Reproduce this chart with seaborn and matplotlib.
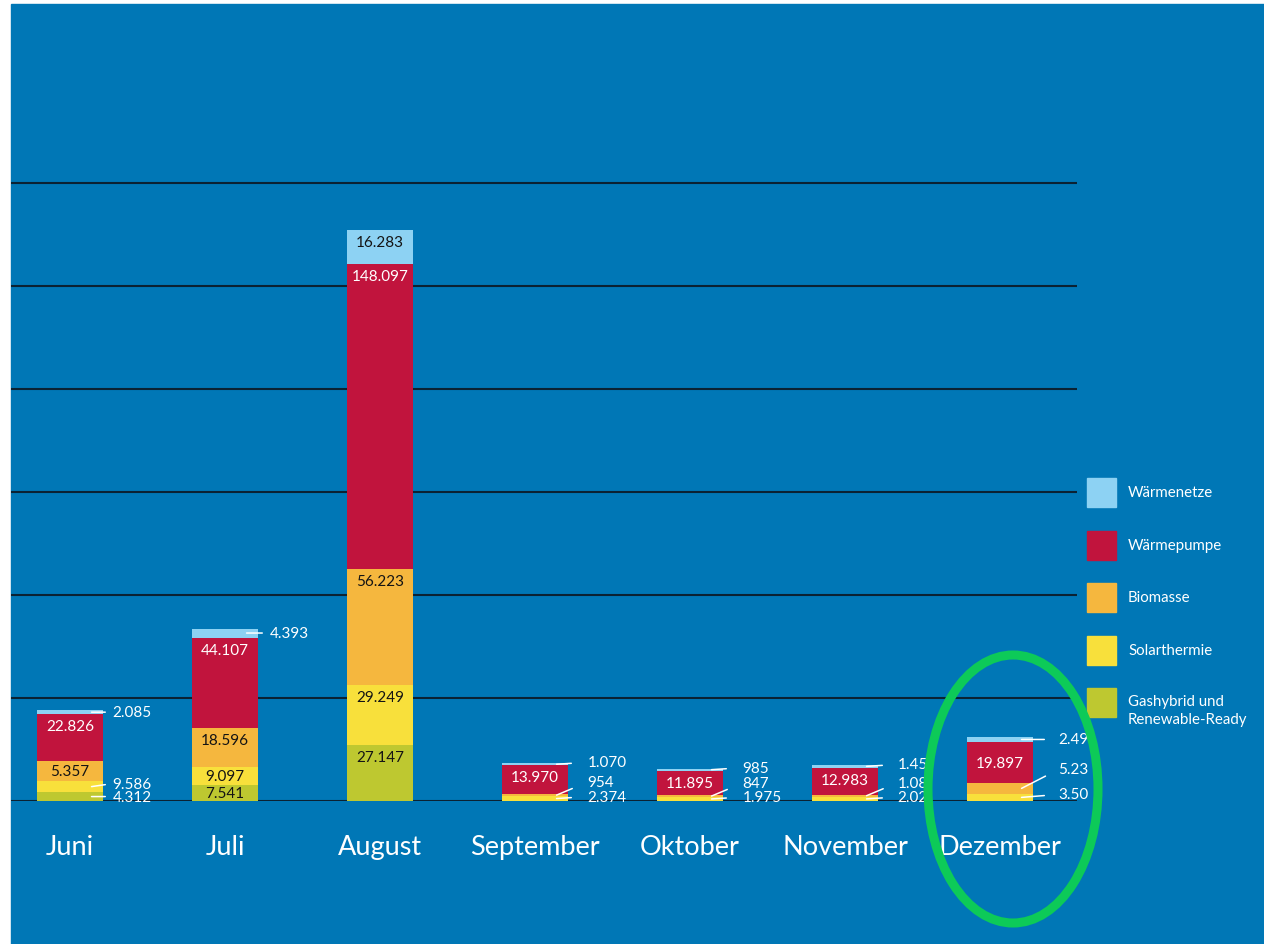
import matplotlib
matplotlib.use("Agg")
import matplotlib.pyplot as plt
import seaborn as sns
from matplotlib.patches import Rectangle, Ellipse

# data
months = ['Juni', 'Juli', 'August', 'September', 'Oktober', 'November', 'Dezember']
series = ['Gashybrid und\nRenewable-Ready', 'Solarthermie', 'Biomasse', 'Wärmepumpe', 'Wärmenetze']  # bottom -> top

gashybrid = [4312, 7541, 27147, 0, 0, 0, 0]
solarthermie = [5357, 9097, 29249, 2374, 1975, 2020, 3500]
biomasse = [9586, 18596, 56223, 954, 847, 1080, 5230]
waermepumpe = [22826, 44107, 148097, 13970, 11895, 12983, 19897]
waermenetze = [2085, 4393, 16283, 1070, 985, 1450, 2490]

# value labels as printed in the graphic (some are cut off there)
lbl_gashybrid = ['4.312', '7.541', '27.147', '', '', '', '']
lbl_solarthermie = ['9.586', '9.097', '29.249', '2.374', '1.975', '2.02', '3.50']
lbl_biomasse = ['5.357', '18.596', '56.223', '954', '847', '1.08', '5.23']
lbl_waermepumpe = ['22.826', '44.107', '148.097', '13.970', '11.895', '12.983', '19.897']
lbl_waermenetze = ['2.085', '4.393', '16.283', '1.070', '985', '1.45', '2.49']

values = [gashybrid, solarthermie, biomasse, waermepumpe, waermenetze]
labels = [lbl_gashybrid, lbl_solarthermie, lbl_biomasse, lbl_waermepumpe, lbl_waermenetze]
colors = ['#BEC830', '#F8E03B', '#F5B73E', '#C1143D', '#8DD2F3']

BG = '#0077B6'
W, H = 1264, 945

sns.set_theme(style='white')
plt.rcParams['font.family'] = ['Lato', 'DejaVu Sans']

fig = plt.figure(figsize=(W / 100, H / 100), dpi=100, facecolor='white')
fig.add_artist(Rectangle((11 / W, 0), 1 - 11 / W, 1 - 5 / H, transform=fig.transFigure,
                         color=BG, zorder=-5))

def fx(x):
    return x / W

def fy(y):
    return 1 - y / H

ax = fig.add_axes([fx(11), fy(802), (1077 - 11) / W, (802 - 180) / H])
ax.set_facecolor('none')

# stacked bars: draw the cumulative totals from the top layer down
cum = []
run = [0] * len(months)
for v in values:
    run = [a + b for a, b in zip(run, v)]
    cum.append(run)
for k in range(len(values) - 1, -1, -1):
    sns.barplot(x=months, y=cum[k], order=months, color=colors[k], saturation=1,
                width=0.42, linewidth=0, ax=ax, zorder=2)

ymax = 300000 * 622 / 618
ax.set_ylim(0, ymax)
ax.set_xlim((11 - 70) / 155, (1077 - 70) / 155)
ax.set_yticks(range(0, 300001, 50000))
ax.set_yticklabels([])
ax.grid(axis='y', color='#0B2233', lw=1.5)
ax.grid(axis='x', visible=False)
ax.set_axisbelow(True)
for s in ax.spines.values():
    s.set_visible(False)
ax.set_xticks(range(len(months)))
ax.set_xticklabels(months, color='white', fontsize=19.5)
ax.tick_params(axis='x', length=0, pad=24)
ax.tick_params(axis='y', length=0)
ax.set_xlabel('')
ax.set_ylabel('')

px_per_unit = 622 / ymax
half_w = 0.21
gap = [10, 12, 20, 20, 20, 20, 26]       # text distance from bar edge (px)
shrink = [4, 4, 13, 13, 13, 12, 11]     # leader end before text (px)

for k, (v, lb) in enumerate(zip(values, labels)):
    for i, m in enumerate(months):
        if not lb[i]:
            continue
        top = cum[k][i]
        h_px = v[i] * px_per_unit
        if v[i] >= 6500:
            off = min(12, h_px / 2)
            if m == 'Dezember' and k == 3:
                off = h_px / 2
            tc = 'white' if k == 3 else '#141414'
            ax.annotate(lb[i], xy=(i, top), xytext=(0, -off), textcoords='offset pixels',
                        ha='center', va='center', fontsize=11, color=tc, zorder=5)
        else:
            mid = top - v[i] / 2
            dy = -2
            if k == 2:
                dy = -19 if m == 'Dezember' else -13
            if m in ('Juni', 'Juli') or (m == 'Dezember' and k != 2):
                dy = 0 if k != 1 else -3
            x0 = i + half_w - 11 / 155
            ax.annotate(lb[i], xy=(x0, mid), xytext=(11 + gap[i], -dy), textcoords='offset pixels',
                        ha='left', va='center', fontsize=11, color='white', zorder=5,
                        arrowprops=dict(arrowstyle='-', color='white', lw=1.1,
                                        shrinkA=shrink[i] * 0.72, shrinkB=0,
                                        relpos=(0, 0.5)))

# legend drawn by hand (right side)
legend_names = ['Wärmenetze', 'Wärmepumpe', 'Biomasse', 'Solarthermie', 'Gashybrid und\nRenewable-Ready']
legend_cols = colors[::-1]
for j, (name, c) in enumerate(zip(legend_names, legend_cols)):
    ytop = 479 + 52.5 * j
    fig.add_artist(Rectangle((fx(1087), fy(ytop + 29)), 29 / W, 29 / H,
                             transform=fig.transFigure, color=c, zorder=3))
    if '\n' in name:
        fig.text(fx(1128), fy(ytop + 6), name, ha='left', va='top', color='white',
                 fontsize=10.8, linespacing=1.35)
    else:
        fig.text(fx(1128), fy(ytop + 14.5), name, ha='left', va='center', color='white',
                 fontsize=10.8)

# green highlight around December
fig.add_artist(Ellipse((fx(1013), fy(790)), 170 / W, 268 / H, transform=fig.transFigure,
                       fill=False, ec='#0DCA58', lw=6.5, zorder=10))

fig.savefig('out.png', dpi=100, facecolor=fig.get_facecolor())
